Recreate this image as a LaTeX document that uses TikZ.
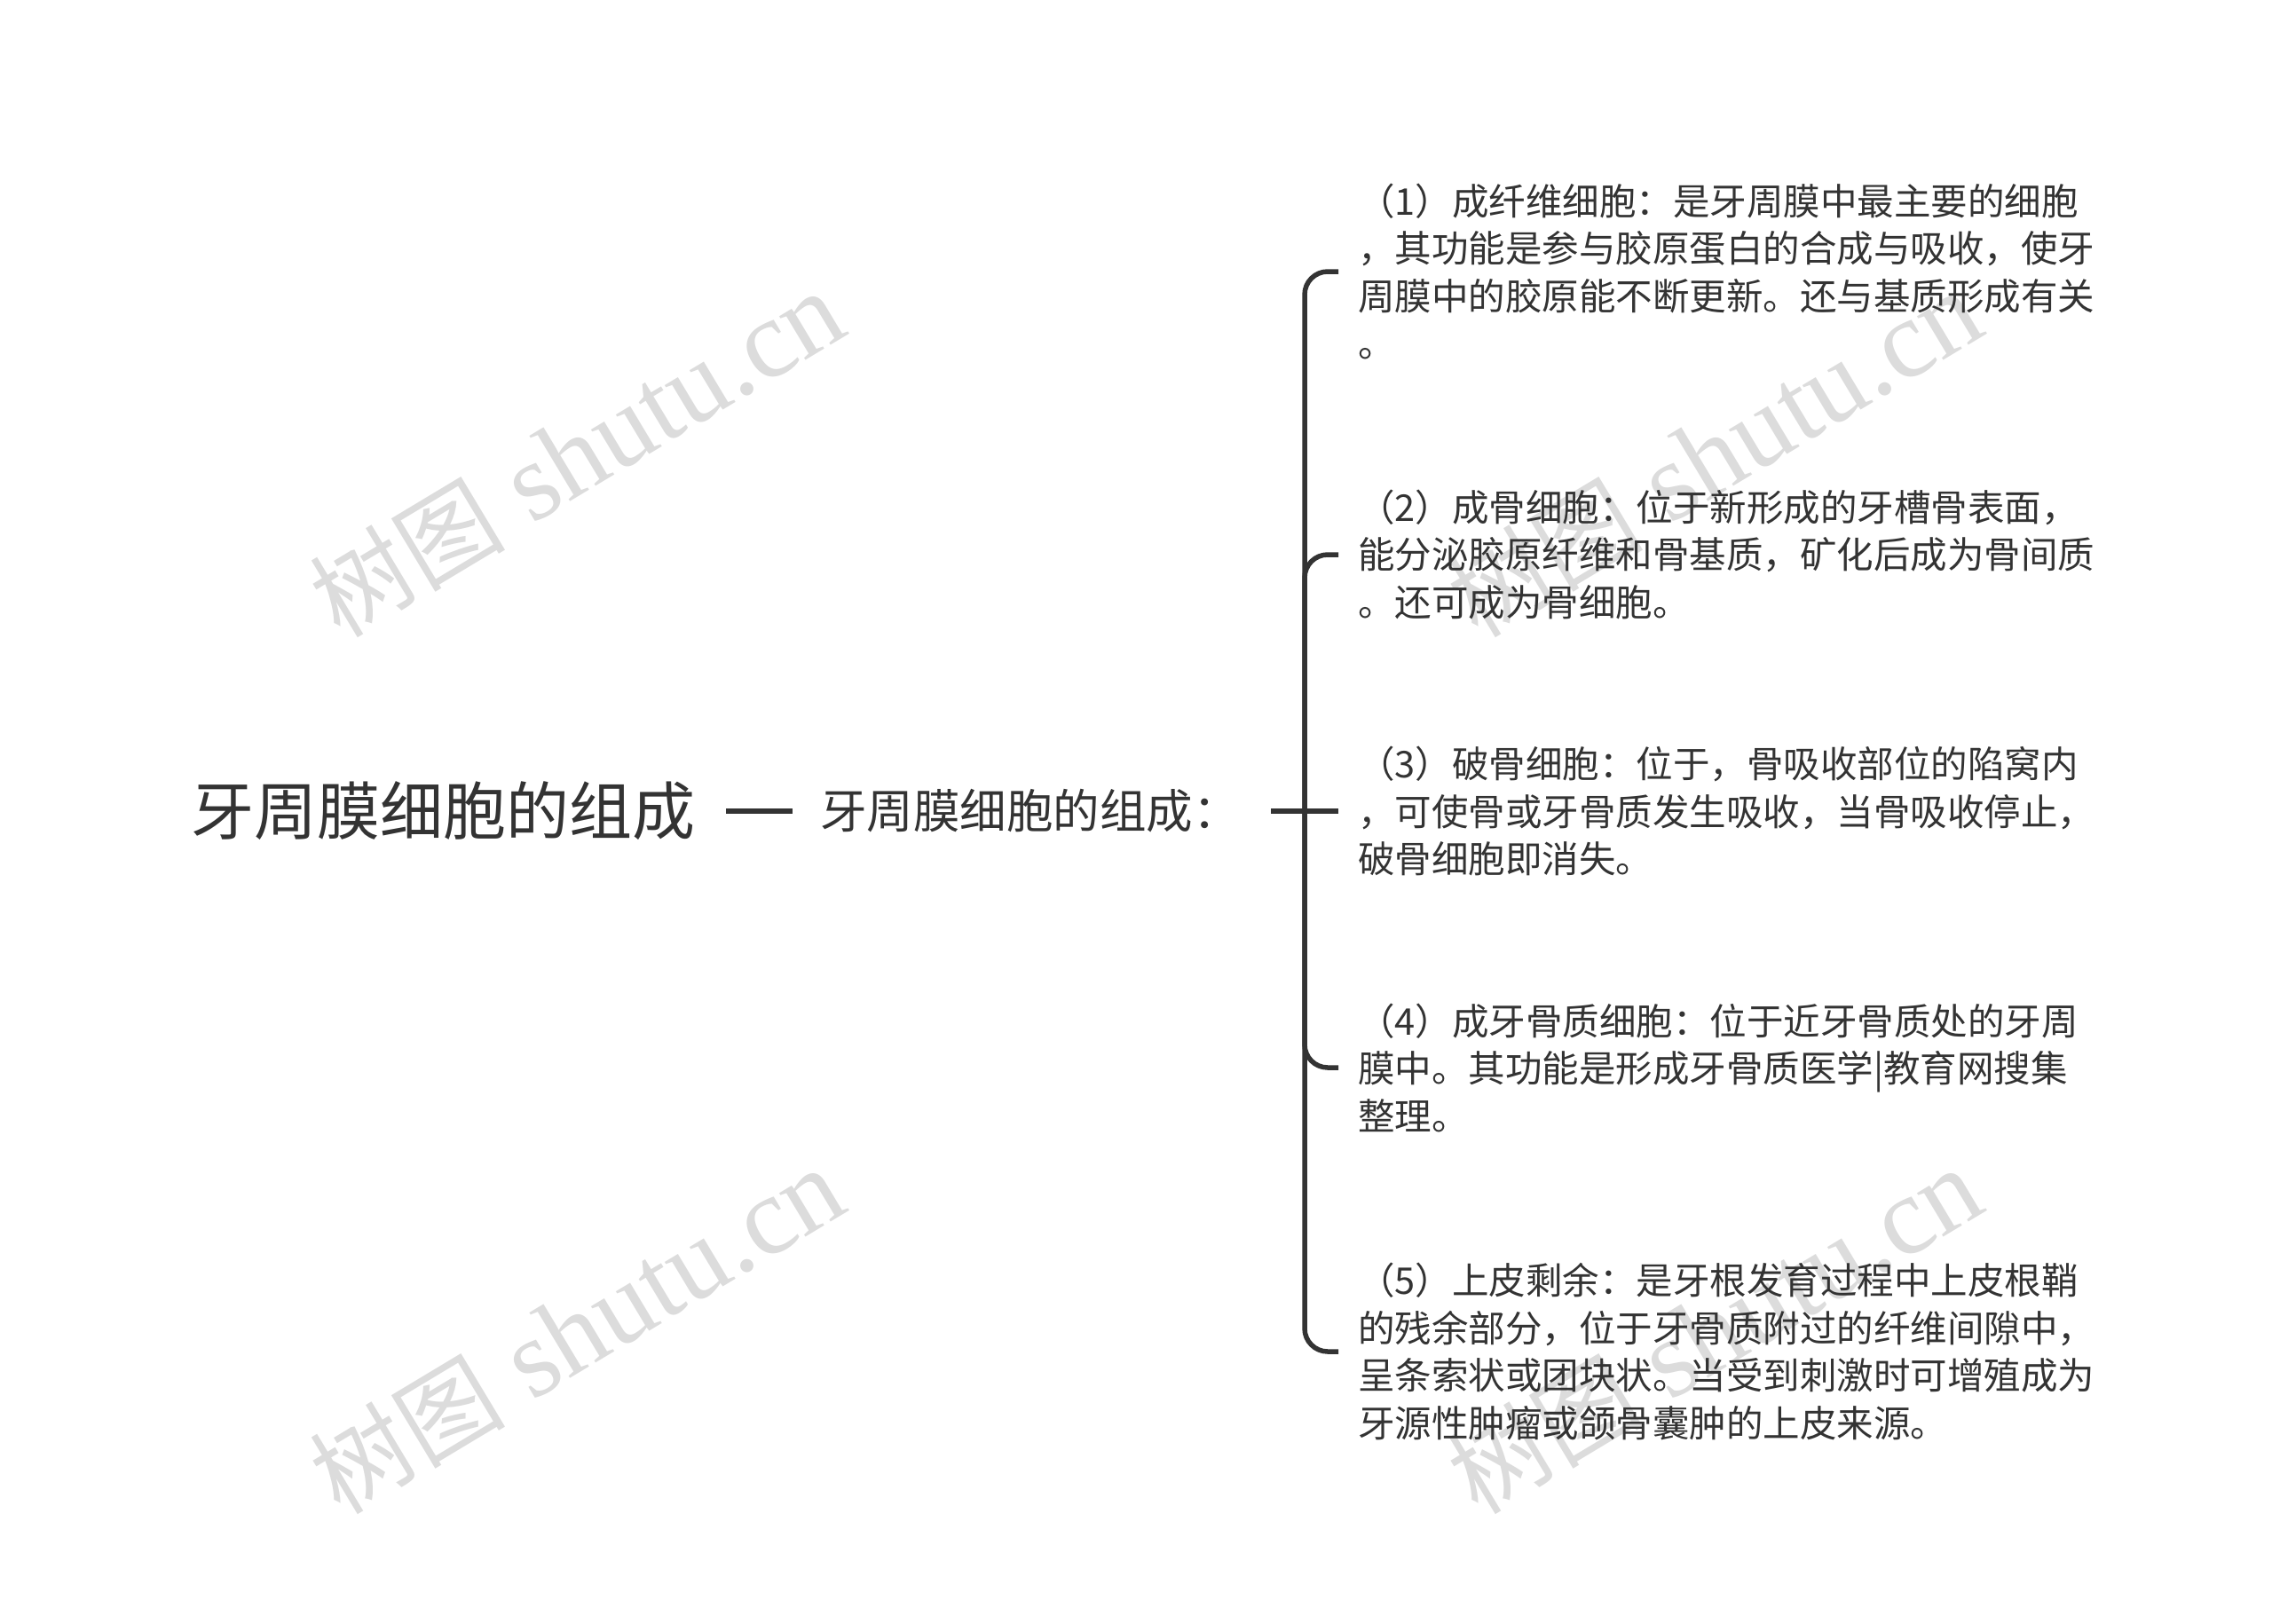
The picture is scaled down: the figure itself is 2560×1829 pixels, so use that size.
\documentclass[tikz,border=0pt]{standalone}
\usepackage{fontspec}
\setmainfont{Noto Sans CJK SC}
\newfontfamily\wmlatin{Liberation Serif}
\newfontfamily\wmcjk{Noto Sans CJK SC}
\definecolor{txt}{HTML}{333333}
\definecolor{wmgray}{HTML}{DCDCDC}
\newcommand{\wmtext}{{\wmcjk\fontsize{110}{120}\selectfont 树图}{\wmlatin\fontsize{125}{140}\selectfont\ shutu.cn}}
\begin{document}
\begin{tikzpicture}[x=1pt,y=-1pt,
  conn/.style={draw=txt, line width=5.5pt, rounded corners=26pt},
  rootnode/.style={inner sep=0pt, anchor=west, text=txt, font=\fontsize{71}{85}\selectfont},
  childnode/.style={inner sep=0pt, anchor=west, text=txt, font=\fontsize{52.5}{63}\selectfont},
  leafnode/.style={inner sep=0pt, anchor=west, text=txt, align=left, font=\fontsize{41.5}{53.5}\selectfont},
  wmark/.style={inner sep=0pt, text=wmgray, rotate=31}
]
\useasboundingbox (0,0) rectangle (2560,1829);
\fill[white] (0,0) rectangle (2560,1829);

% watermarks
\node[wmark] (w1) at (650,512)  {\wmtext};
\node[wmark] (w2) at (650,1500) {\wmtext};
\node[wmark] (w3) at (1932,512) {\wmtext};
\node[wmark] (w4) at (1932,1500){\wmtext};

% nodes
\node[rootnode] (root) at (215,914) {牙周膜细胞的组成};
\node[childnode] (child) at (924,914) {牙周膜细胞的组成：};

\node[leafnode] (n1) at (1530,306) {（1）成纤维细胞：是牙周膜中最主要的细胞\\，其功能是参与胶原蛋白的合成与吸收，使牙\\周膜中的胶原能不断更新。还与基质形成有关\\。};
\node[leafnode] (n2) at (1530,625) {（2）成骨细胞：位于新形成的牙槽骨表面，\\能分泌胶原纤维和骨基质，矿化后成为骨间质\\。还可成为骨细胞。};
\node[leafnode] (n3) at (1530,914) {（3）破骨细胞：位于，骨吸收部位的陷窝内\\，可使骨或牙骨质发生吸收，当骨吸收停止，\\破骨细胞即消失。};
\node[leafnode] (n4) at (1530,1203) {（4）成牙骨质细胞：位于近牙骨质处的牙周\\膜中。其功能是形成牙骨质医学|教育网搜集\\整理。};
\node[leafnode] (n5) at (1530,1523) {（5）上皮剩余：是牙根发育过程中上皮根鞘\\的残余部分，位于牙骨质附过的纤维间隙中，\\呈条索状或团块状。当受到刺激时可增殖成为\\牙源性肿瘤或颌骨囊肿的上皮来源。};

\coordinate (hub) at (1470,914);
\coordinate (tickL) at (1432,914);

% connectors
\draw[conn] ([xshift=35pt]root.east) -- ([xshift=-31pt]child.west);
\draw[conn] (tickL) -- ([xshift=-22pt]n3.west);
\draw[conn] (hub) |- ([xshift=-22pt]n1.west);
\draw[conn] (hub) |- ([xshift=-22pt]n2.west);
\draw[conn] (hub) |- ([xshift=-22pt]n4.west);
\draw[conn] (hub) |- ([xshift=-22pt]n5.west);
\end{tikzpicture}
\end{document}
